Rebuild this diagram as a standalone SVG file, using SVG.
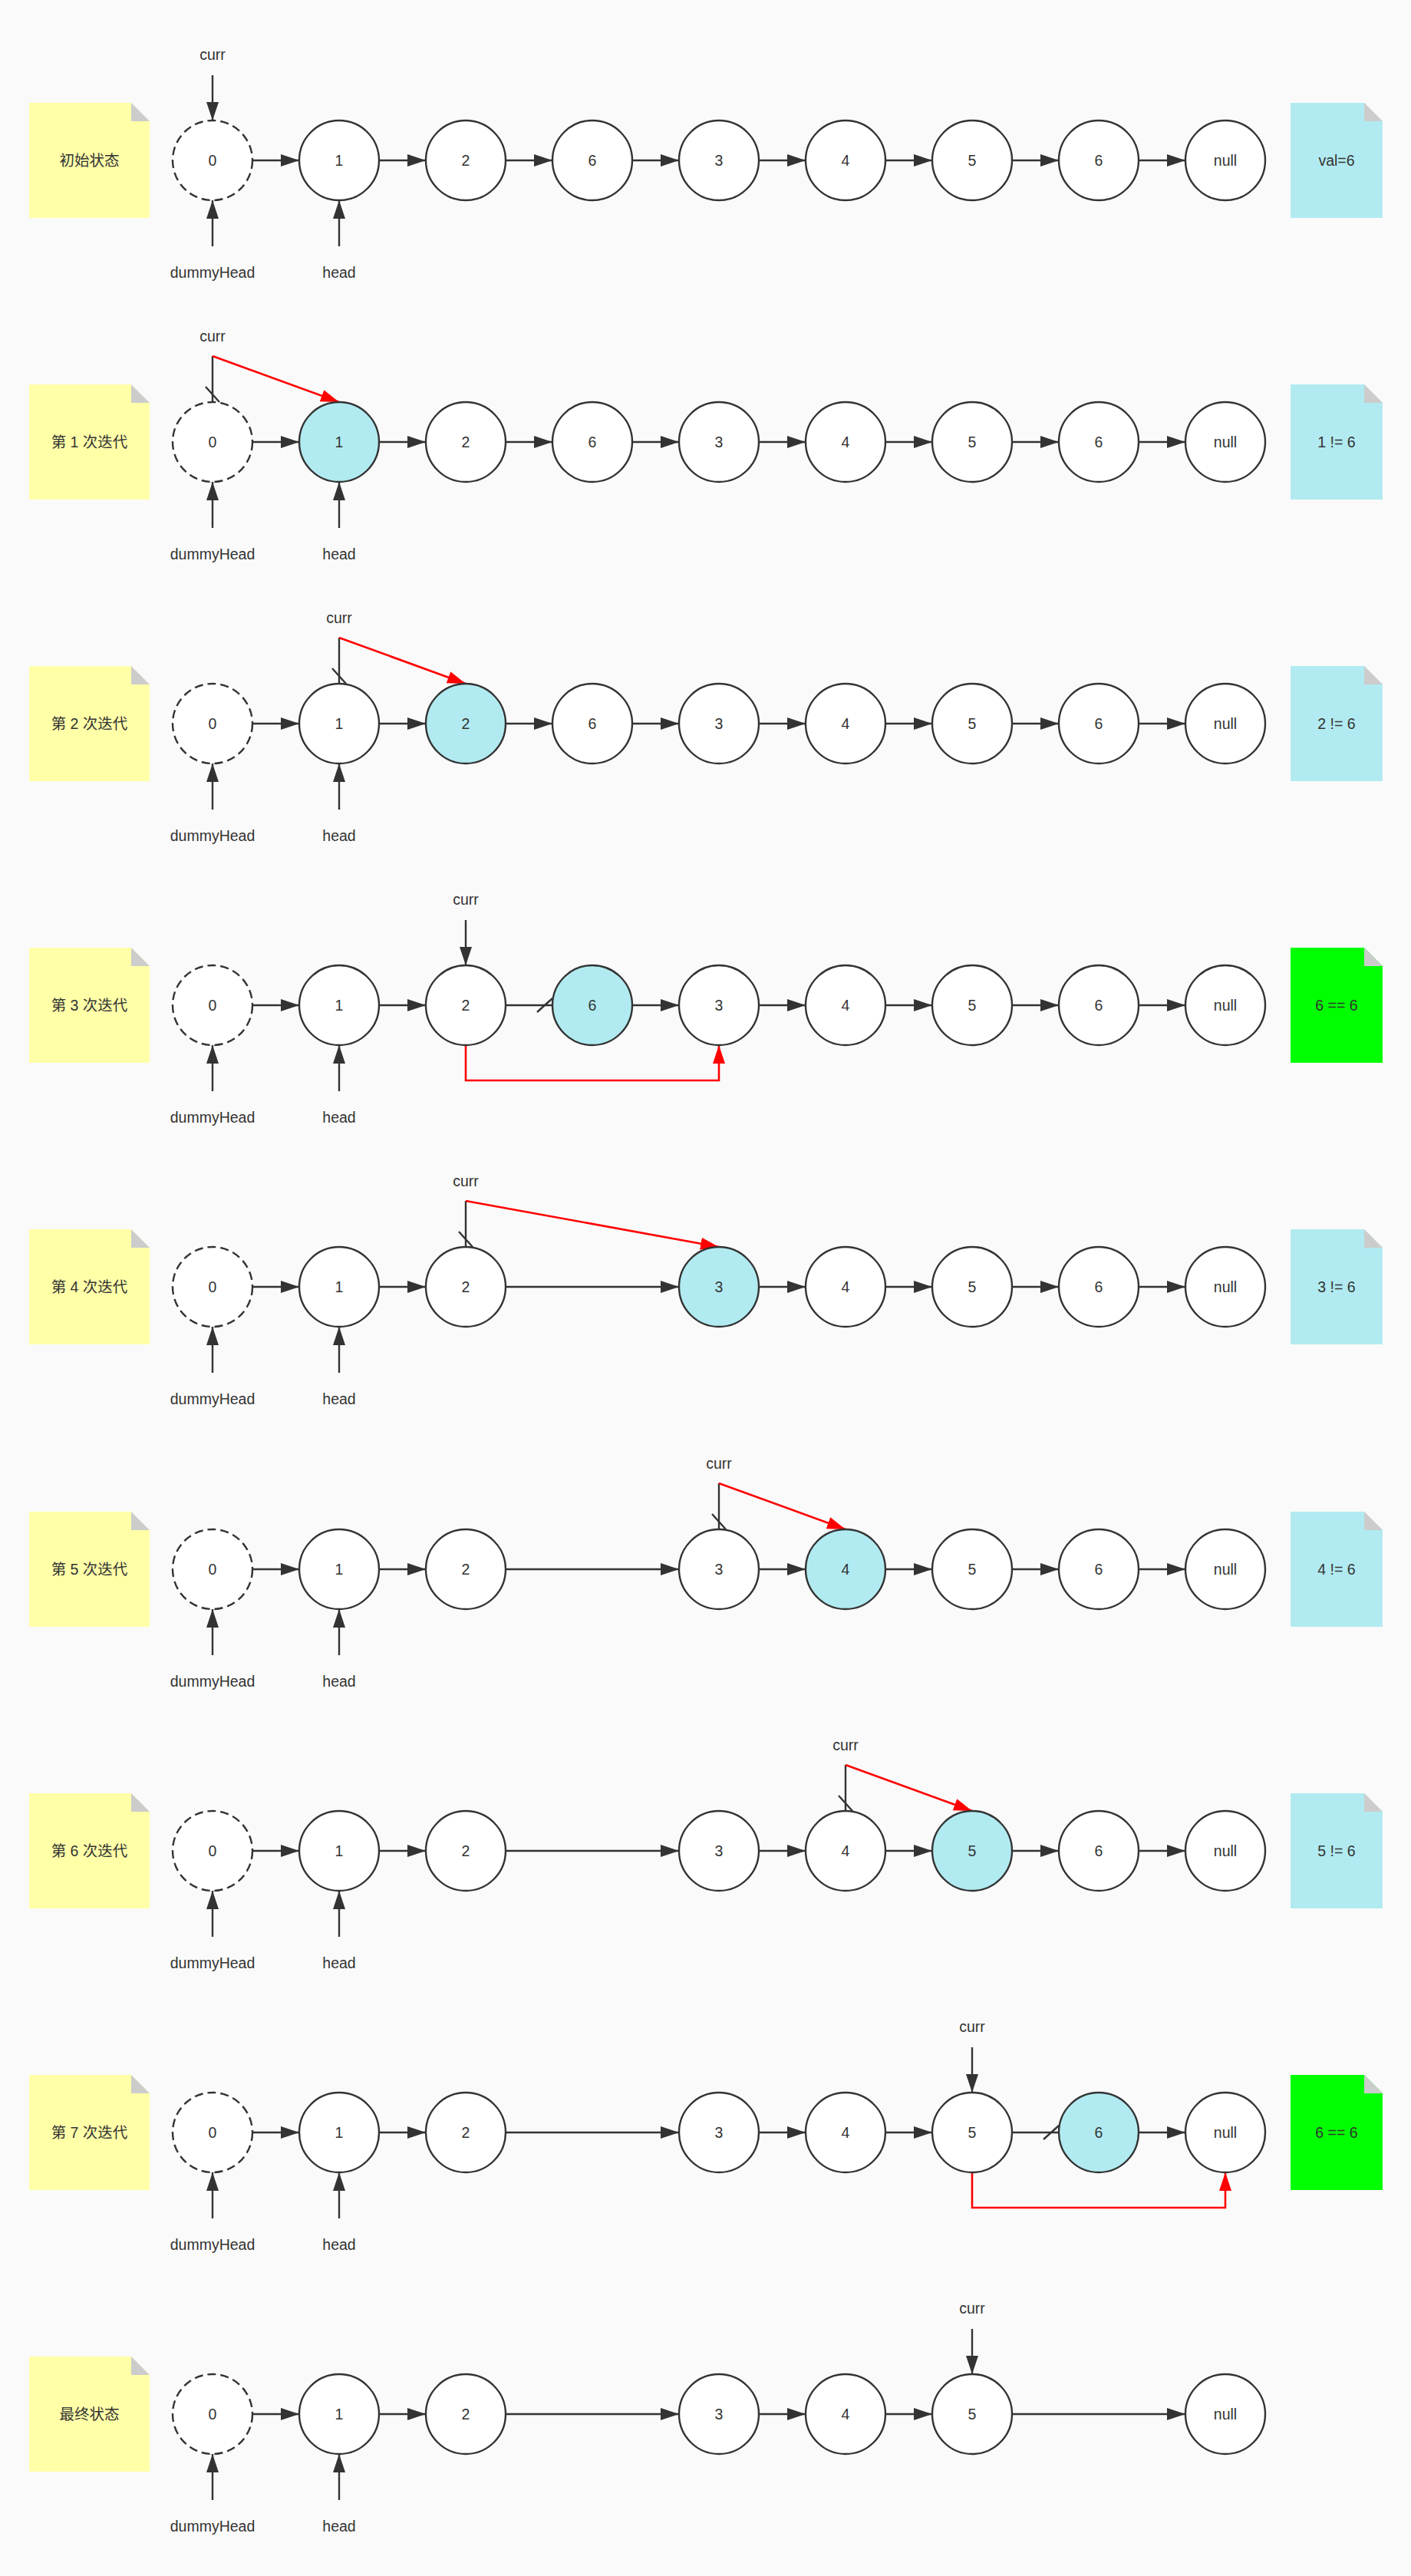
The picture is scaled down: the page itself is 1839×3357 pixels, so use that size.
<svg xmlns="http://www.w3.org/2000/svg" width="1839" height="3357" viewBox="0 0 1839 3357">
<style>
.n{fill:#fff;stroke:#333;stroke-width:2.4}
.nd{fill:#fff;stroke:#333;stroke-width:2.4;stroke-dasharray:11 6}
.nh{fill:#b1ebf1;stroke:#333;stroke-width:2.4}
.t{font-family:"Liberation Sans","Noto Sans CJK SC",sans-serif;font-size:19.5px;fill:#333;text-anchor:middle;dominant-baseline:central}
.e{fill:none;stroke:#333;stroke-width:2.4;marker-end:url(#ab)}
.c{fill:none;stroke:#333;stroke-width:2.4;marker-end:url(#dash)}
.r{fill:none;stroke:#f00;stroke-width:2.6;marker-end:url(#ar)}
.ny{fill:#ffffa8}
.nb{fill:#b1ebf1}
.ng{fill:#00ff00}
.fold{fill:#ccc}
</style>
<defs>
<marker id="ab" markerUnits="userSpaceOnUse" viewBox="0 0 24 16" refX="24" refY="8" markerWidth="24" markerHeight="16" orient="auto"><path d="M0,0 L24,8 L0,16 z" fill="#333"/></marker>
<marker id="ar" markerUnits="userSpaceOnUse" viewBox="0 0 24 16" refX="24" refY="8" markerWidth="24" markerHeight="16" orient="auto"><path d="M0,0 L24,8 L0,16 z" fill="#f00"/></marker>
<marker id="dash" markerUnits="userSpaceOnUse" viewBox="-24 -12 28 24" refX="0" refY="0" markerWidth="28" markerHeight="24" orient="auto" overflow="visible"><path d="M-20,9 L0,-9" fill="none" stroke="#333" stroke-width="2.4"/></marker>
</defs>
<rect width="1839" height="3357" fill="#fafafa"/>

<!-- Row 1 -->
<g id="row1">
<g id="r1-note"><polygon class="ny" points="38,134 171,134 195,158 195,284 38,284"/><polygon class="fold" points="171,134 171,158 195,158"/><text class="t" x="116.5" y="209">初始状态</text></g>
<g id="r1-edges">
<path class="e" d="M329,209 L390,209"/><path class="e" d="M494,209 L555,209"/><path class="e" d="M659,209 L720,209"/><path class="e" d="M824,209 L885,209"/><path class="e" d="M989,209 L1050,209"/><path class="e" d="M1154,209 L1215,209"/><path class="e" d="M1319,209 L1380,209"/><path class="e" d="M1484,209 L1545,209"/>
<path class="e" d="M277,98 L277,157"/><path class="e" d="M277,321 L277,261"/><path class="e" d="M442,321 L442,261"/>
</g>
<g id="r1-n0"><circle class="nd" cx="277" cy="209" r="52"/><text class="t" x="277" y="209">0</text></g>
<g id="r1-n1"><circle class="n" cx="442" cy="209" r="52"/><text class="t" x="442" y="209">1</text></g>
<g id="r1-n2"><circle class="n" cx="607" cy="209" r="52"/><text class="t" x="607" y="209">2</text></g>
<g id="r1-n3"><circle class="n" cx="772" cy="209" r="52"/><text class="t" x="772" y="209">6</text></g>
<g id="r1-n4"><circle class="n" cx="937" cy="209" r="52"/><text class="t" x="937" y="209">3</text></g>
<g id="r1-n5"><circle class="n" cx="1102" cy="209" r="52"/><text class="t" x="1102" y="209">4</text></g>
<g id="r1-n6"><circle class="n" cx="1267" cy="209" r="52"/><text class="t" x="1267" y="209">5</text></g>
<g id="r1-n7"><circle class="n" cx="1432" cy="209" r="52"/><text class="t" x="1432" y="209">6</text></g>
<g id="r1-n8"><circle class="n" cx="1597" cy="209" r="52"/><text class="t" x="1597" y="209">null</text></g>
<g id="r1-labels"><text class="t" x="277" y="71">curr</text><text class="t" x="277" y="355">dummyHead</text><text class="t" x="442" y="355">head</text></g>
<g id="r1-val"><polygon class="nb" points="1682,134 1778,134 1802,158 1802,284 1682,284"/><polygon class="fold" points="1778,134 1778,158 1802,158"/><text class="t" x="1742" y="209">val=6</text></g>
</g>

<!-- Row 2 -->
<g id="row2" transform="translate(0,367)">
<g id="r2-note"><polygon class="ny" points="38,134 171,134 195,158 195,284 38,284"/><polygon class="fold" points="171,134 171,158 195,158"/><text class="t" x="116.5" y="209">第 1 次迭代</text></g>
<g id="r2-edges">
<path class="e" d="M329,209 L390,209"/><path class="e" d="M494,209 L555,209"/><path class="e" d="M659,209 L720,209"/><path class="e" d="M824,209 L885,209"/><path class="e" d="M989,209 L1050,209"/><path class="e" d="M1154,209 L1215,209"/><path class="e" d="M1319,209 L1380,209"/><path class="e" d="M1484,209 L1545,209"/>
<path class="c" d="M277,97 L277,157"/><path class="r" d="M277,97 L442,157"/>
<path class="e" d="M277,321 L277,261"/><path class="e" d="M442,321 L442,261"/>
</g>
<g id="r2-n0"><circle class="nd" cx="277" cy="209" r="52"/><text class="t" x="277" y="209">0</text></g>
<g id="r2-n1"><circle class="nh" cx="442" cy="209" r="52"/><text class="t" x="442" y="209">1</text></g>
<g id="r2-n2"><circle class="n" cx="607" cy="209" r="52"/><text class="t" x="607" y="209">2</text></g>
<g id="r2-n3"><circle class="n" cx="772" cy="209" r="52"/><text class="t" x="772" y="209">6</text></g>
<g id="r2-n4"><circle class="n" cx="937" cy="209" r="52"/><text class="t" x="937" y="209">3</text></g>
<g id="r2-n5"><circle class="n" cx="1102" cy="209" r="52"/><text class="t" x="1102" y="209">4</text></g>
<g id="r2-n6"><circle class="n" cx="1267" cy="209" r="52"/><text class="t" x="1267" y="209">5</text></g>
<g id="r2-n7"><circle class="n" cx="1432" cy="209" r="52"/><text class="t" x="1432" y="209">6</text></g>
<g id="r2-n8"><circle class="n" cx="1597" cy="209" r="52"/><text class="t" x="1597" y="209">null</text></g>
<g id="r2-labels"><text class="t" x="277" y="71">curr</text><text class="t" x="277" y="355">dummyHead</text><text class="t" x="442" y="355">head</text></g>
<g id="r2-val"><polygon class="nb" points="1682,134 1778,134 1802,158 1802,284 1682,284"/><polygon class="fold" points="1778,134 1778,158 1802,158"/><text class="t" x="1742" y="209">1 != 6</text></g>
</g>

<!-- Row 3 -->
<g id="row3" transform="translate(0,734)">
<g id="r3-note"><polygon class="ny" points="38,134 171,134 195,158 195,284 38,284"/><polygon class="fold" points="171,134 171,158 195,158"/><text class="t" x="116.5" y="209">第 2 次迭代</text></g>
<g id="r3-edges">
<path class="e" d="M329,209 L390,209"/><path class="e" d="M494,209 L555,209"/><path class="e" d="M659,209 L720,209"/><path class="e" d="M824,209 L885,209"/><path class="e" d="M989,209 L1050,209"/><path class="e" d="M1154,209 L1215,209"/><path class="e" d="M1319,209 L1380,209"/><path class="e" d="M1484,209 L1545,209"/>
<path class="c" d="M442,97 L442,157"/><path class="r" d="M442,97 L607,157"/>
<path class="e" d="M277,321 L277,261"/><path class="e" d="M442,321 L442,261"/>
</g>
<g id="r3-n0"><circle class="nd" cx="277" cy="209" r="52"/><text class="t" x="277" y="209">0</text></g>
<g id="r3-n1"><circle class="n" cx="442" cy="209" r="52"/><text class="t" x="442" y="209">1</text></g>
<g id="r3-n2"><circle class="nh" cx="607" cy="209" r="52"/><text class="t" x="607" y="209">2</text></g>
<g id="r3-n3"><circle class="n" cx="772" cy="209" r="52"/><text class="t" x="772" y="209">6</text></g>
<g id="r3-n4"><circle class="n" cx="937" cy="209" r="52"/><text class="t" x="937" y="209">3</text></g>
<g id="r3-n5"><circle class="n" cx="1102" cy="209" r="52"/><text class="t" x="1102" y="209">4</text></g>
<g id="r3-n6"><circle class="n" cx="1267" cy="209" r="52"/><text class="t" x="1267" y="209">5</text></g>
<g id="r3-n7"><circle class="n" cx="1432" cy="209" r="52"/><text class="t" x="1432" y="209">6</text></g>
<g id="r3-n8"><circle class="n" cx="1597" cy="209" r="52"/><text class="t" x="1597" y="209">null</text></g>
<g id="r3-labels"><text class="t" x="442" y="71">curr</text><text class="t" x="277" y="355">dummyHead</text><text class="t" x="442" y="355">head</text></g>
<g id="r3-val"><polygon class="nb" points="1682,134 1778,134 1802,158 1802,284 1682,284"/><polygon class="fold" points="1778,134 1778,158 1802,158"/><text class="t" x="1742" y="209">2 != 6</text></g>
</g>

<!-- Row 4 -->
<g id="row4" transform="translate(0,1101)">
<g id="r4-note"><polygon class="ny" points="38,134 171,134 195,158 195,284 38,284"/><polygon class="fold" points="171,134 171,158 195,158"/><text class="t" x="116.5" y="209">第 3 次迭代</text></g>
<g id="r4-edges">
<path class="e" d="M329,209 L390,209"/><path class="e" d="M494,209 L555,209"/><path class="c" d="M659,209 L720,209"/><path class="e" d="M824,209 L885,209"/><path class="e" d="M989,209 L1050,209"/><path class="e" d="M1154,209 L1215,209"/><path class="e" d="M1319,209 L1380,209"/><path class="e" d="M1484,209 L1545,209"/>
<path class="e" d="M607,98 L607,157"/>
<path class="r" d="M607,261 L607,307 L937,307 L937,261"/>
<path class="e" d="M277,321 L277,261"/><path class="e" d="M442,321 L442,261"/>
</g>
<g id="r4-n0"><circle class="nd" cx="277" cy="209" r="52"/><text class="t" x="277" y="209">0</text></g>
<g id="r4-n1"><circle class="n" cx="442" cy="209" r="52"/><text class="t" x="442" y="209">1</text></g>
<g id="r4-n2"><circle class="n" cx="607" cy="209" r="52"/><text class="t" x="607" y="209">2</text></g>
<g id="r4-n3"><circle class="nh" cx="772" cy="209" r="52"/><text class="t" x="772" y="209">6</text></g>
<g id="r4-n4"><circle class="n" cx="937" cy="209" r="52"/><text class="t" x="937" y="209">3</text></g>
<g id="r4-n5"><circle class="n" cx="1102" cy="209" r="52"/><text class="t" x="1102" y="209">4</text></g>
<g id="r4-n6"><circle class="n" cx="1267" cy="209" r="52"/><text class="t" x="1267" y="209">5</text></g>
<g id="r4-n7"><circle class="n" cx="1432" cy="209" r="52"/><text class="t" x="1432" y="209">6</text></g>
<g id="r4-n8"><circle class="n" cx="1597" cy="209" r="52"/><text class="t" x="1597" y="209">null</text></g>
<g id="r4-labels"><text class="t" x="607" y="71">curr</text><text class="t" x="277" y="355">dummyHead</text><text class="t" x="442" y="355">head</text></g>
<g id="r4-val"><polygon class="ng" points="1682,134 1778,134 1802,158 1802,284 1682,284"/><polygon class="fold" points="1778,134 1778,158 1802,158"/><text class="t" x="1742" y="209">6 == 6</text></g>
</g>

<!-- Row 5 -->
<g id="row5" transform="translate(0,1468)">
<g id="r5-note"><polygon class="ny" points="38,134 171,134 195,158 195,284 38,284"/><polygon class="fold" points="171,134 171,158 195,158"/><text class="t" x="116.5" y="209">第 4 次迭代</text></g>
<g id="r5-edges">
<path class="e" d="M329,209 L390,209"/><path class="e" d="M494,209 L555,209"/><path class="e" d="M659,209 L885,209"/><path class="e" d="M989,209 L1050,209"/><path class="e" d="M1154,209 L1215,209"/><path class="e" d="M1319,209 L1380,209"/><path class="e" d="M1484,209 L1545,209"/>
<path class="c" d="M607,97 L607,157"/><path class="r" d="M607,97 L937,157"/>
<path class="e" d="M277,321 L277,261"/><path class="e" d="M442,321 L442,261"/>
</g>
<g id="r5-n0"><circle class="nd" cx="277" cy="209" r="52"/><text class="t" x="277" y="209">0</text></g>
<g id="r5-n1"><circle class="n" cx="442" cy="209" r="52"/><text class="t" x="442" y="209">1</text></g>
<g id="r5-n2"><circle class="n" cx="607" cy="209" r="52"/><text class="t" x="607" y="209">2</text></g>
<g id="r5-n4"><circle class="nh" cx="937" cy="209" r="52"/><text class="t" x="937" y="209">3</text></g>
<g id="r5-n5"><circle class="n" cx="1102" cy="209" r="52"/><text class="t" x="1102" y="209">4</text></g>
<g id="r5-n6"><circle class="n" cx="1267" cy="209" r="52"/><text class="t" x="1267" y="209">5</text></g>
<g id="r5-n7"><circle class="n" cx="1432" cy="209" r="52"/><text class="t" x="1432" y="209">6</text></g>
<g id="r5-n8"><circle class="n" cx="1597" cy="209" r="52"/><text class="t" x="1597" y="209">null</text></g>
<g id="r5-labels"><text class="t" x="607" y="71">curr</text><text class="t" x="277" y="355">dummyHead</text><text class="t" x="442" y="355">head</text></g>
<g id="r5-val"><polygon class="nb" points="1682,134 1778,134 1802,158 1802,284 1682,284"/><polygon class="fold" points="1778,134 1778,158 1802,158"/><text class="t" x="1742" y="209">3 != 6</text></g>
</g>

<!-- Row 6 -->
<g id="row6" transform="translate(0,1836)">
<g id="r6-note"><polygon class="ny" points="38,134 171,134 195,158 195,284 38,284"/><polygon class="fold" points="171,134 171,158 195,158"/><text class="t" x="116.5" y="209">第 5 次迭代</text></g>
<g id="r6-edges">
<path class="e" d="M329,209 L390,209"/><path class="e" d="M494,209 L555,209"/><path class="e" d="M659,209 L885,209"/><path class="e" d="M989,209 L1050,209"/><path class="e" d="M1154,209 L1215,209"/><path class="e" d="M1319,209 L1380,209"/><path class="e" d="M1484,209 L1545,209"/>
<path class="c" d="M937,97 L937,157"/><path class="r" d="M937,97 L1102,157"/>
<path class="e" d="M277,321 L277,261"/><path class="e" d="M442,321 L442,261"/>
</g>
<g id="r6-n0"><circle class="nd" cx="277" cy="209" r="52"/><text class="t" x="277" y="209">0</text></g>
<g id="r6-n1"><circle class="n" cx="442" cy="209" r="52"/><text class="t" x="442" y="209">1</text></g>
<g id="r6-n2"><circle class="n" cx="607" cy="209" r="52"/><text class="t" x="607" y="209">2</text></g>
<g id="r6-n4"><circle class="n" cx="937" cy="209" r="52"/><text class="t" x="937" y="209">3</text></g>
<g id="r6-n5"><circle class="nh" cx="1102" cy="209" r="52"/><text class="t" x="1102" y="209">4</text></g>
<g id="r6-n6"><circle class="n" cx="1267" cy="209" r="52"/><text class="t" x="1267" y="209">5</text></g>
<g id="r6-n7"><circle class="n" cx="1432" cy="209" r="52"/><text class="t" x="1432" y="209">6</text></g>
<g id="r6-n8"><circle class="n" cx="1597" cy="209" r="52"/><text class="t" x="1597" y="209">null</text></g>
<g id="r6-labels"><text class="t" x="937" y="71">curr</text><text class="t" x="277" y="355">dummyHead</text><text class="t" x="442" y="355">head</text></g>
<g id="r6-val"><polygon class="nb" points="1682,134 1778,134 1802,158 1802,284 1682,284"/><polygon class="fold" points="1778,134 1778,158 1802,158"/><text class="t" x="1742" y="209">4 != 6</text></g>
</g>

<!-- Row 7 -->
<g id="row7" transform="translate(0,2203)">
<g id="r7-note"><polygon class="ny" points="38,134 171,134 195,158 195,284 38,284"/><polygon class="fold" points="171,134 171,158 195,158"/><text class="t" x="116.5" y="209">第 6 次迭代</text></g>
<g id="r7-edges">
<path class="e" d="M329,209 L390,209"/><path class="e" d="M494,209 L555,209"/><path class="e" d="M659,209 L885,209"/><path class="e" d="M989,209 L1050,209"/><path class="e" d="M1154,209 L1215,209"/><path class="e" d="M1319,209 L1380,209"/><path class="e" d="M1484,209 L1545,209"/>
<path class="c" d="M1102,97 L1102,157"/><path class="r" d="M1102,97 L1267,157"/>
<path class="e" d="M277,321 L277,261"/><path class="e" d="M442,321 L442,261"/>
</g>
<g id="r7-n0"><circle class="nd" cx="277" cy="209" r="52"/><text class="t" x="277" y="209">0</text></g>
<g id="r7-n1"><circle class="n" cx="442" cy="209" r="52"/><text class="t" x="442" y="209">1</text></g>
<g id="r7-n2"><circle class="n" cx="607" cy="209" r="52"/><text class="t" x="607" y="209">2</text></g>
<g id="r7-n4"><circle class="n" cx="937" cy="209" r="52"/><text class="t" x="937" y="209">3</text></g>
<g id="r7-n5"><circle class="n" cx="1102" cy="209" r="52"/><text class="t" x="1102" y="209">4</text></g>
<g id="r7-n6"><circle class="nh" cx="1267" cy="209" r="52"/><text class="t" x="1267" y="209">5</text></g>
<g id="r7-n7"><circle class="n" cx="1432" cy="209" r="52"/><text class="t" x="1432" y="209">6</text></g>
<g id="r7-n8"><circle class="n" cx="1597" cy="209" r="52"/><text class="t" x="1597" y="209">null</text></g>
<g id="r7-labels"><text class="t" x="1102" y="71">curr</text><text class="t" x="277" y="355">dummyHead</text><text class="t" x="442" y="355">head</text></g>
<g id="r7-val"><polygon class="nb" points="1682,134 1778,134 1802,158 1802,284 1682,284"/><polygon class="fold" points="1778,134 1778,158 1802,158"/><text class="t" x="1742" y="209">5 != 6</text></g>
</g>

<!-- Row 8 -->
<g id="row8" transform="translate(0,2570)">
<g id="r8-note"><polygon class="ny" points="38,134 171,134 195,158 195,284 38,284"/><polygon class="fold" points="171,134 171,158 195,158"/><text class="t" x="116.5" y="209">第 7 次迭代</text></g>
<g id="r8-edges">
<path class="e" d="M329,209 L390,209"/><path class="e" d="M494,209 L555,209"/><path class="e" d="M659,209 L885,209"/><path class="e" d="M989,209 L1050,209"/><path class="e" d="M1154,209 L1215,209"/><path class="c" d="M1319,209 L1380,209"/><path class="e" d="M1484,209 L1545,209"/>
<path class="e" d="M1267,98 L1267,157"/>
<path class="r" d="M1267,261 L1267,307 L1597,307 L1597,261"/>
<path class="e" d="M277,321 L277,261"/><path class="e" d="M442,321 L442,261"/>
</g>
<g id="r8-n0"><circle class="nd" cx="277" cy="209" r="52"/><text class="t" x="277" y="209">0</text></g>
<g id="r8-n1"><circle class="n" cx="442" cy="209" r="52"/><text class="t" x="442" y="209">1</text></g>
<g id="r8-n2"><circle class="n" cx="607" cy="209" r="52"/><text class="t" x="607" y="209">2</text></g>
<g id="r8-n4"><circle class="n" cx="937" cy="209" r="52"/><text class="t" x="937" y="209">3</text></g>
<g id="r8-n5"><circle class="n" cx="1102" cy="209" r="52"/><text class="t" x="1102" y="209">4</text></g>
<g id="r8-n6"><circle class="n" cx="1267" cy="209" r="52"/><text class="t" x="1267" y="209">5</text></g>
<g id="r8-n7"><circle class="nh" cx="1432" cy="209" r="52"/><text class="t" x="1432" y="209">6</text></g>
<g id="r8-n8"><circle class="n" cx="1597" cy="209" r="52"/><text class="t" x="1597" y="209">null</text></g>
<g id="r8-labels"><text class="t" x="1267" y="71">curr</text><text class="t" x="277" y="355">dummyHead</text><text class="t" x="442" y="355">head</text></g>
<g id="r8-val"><polygon class="ng" points="1682,134 1778,134 1802,158 1802,284 1682,284"/><polygon class="fold" points="1778,134 1778,158 1802,158"/><text class="t" x="1742" y="209">6 == 6</text></g>
</g>

<!-- Row 9 -->
<g id="row9" transform="translate(0,2937)">
<g id="r9-note"><polygon class="ny" points="38,134 171,134 195,158 195,284 38,284"/><polygon class="fold" points="171,134 171,158 195,158"/><text class="t" x="116.5" y="209">最终状态</text></g>
<g id="r9-edges">
<path class="e" d="M329,209 L390,209"/><path class="e" d="M494,209 L555,209"/><path class="e" d="M659,209 L885,209"/><path class="e" d="M989,209 L1050,209"/><path class="e" d="M1154,209 L1215,209"/><path class="e" d="M1319,209 L1545,209"/>
<path class="e" d="M1267,98 L1267,157"/>
<path class="e" d="M277,321 L277,261"/><path class="e" d="M442,321 L442,261"/>
</g>
<g id="r9-n0"><circle class="nd" cx="277" cy="209" r="52"/><text class="t" x="277" y="209">0</text></g>
<g id="r9-n1"><circle class="n" cx="442" cy="209" r="52"/><text class="t" x="442" y="209">1</text></g>
<g id="r9-n2"><circle class="n" cx="607" cy="209" r="52"/><text class="t" x="607" y="209">2</text></g>
<g id="r9-n4"><circle class="n" cx="937" cy="209" r="52"/><text class="t" x="937" y="209">3</text></g>
<g id="r9-n5"><circle class="n" cx="1102" cy="209" r="52"/><text class="t" x="1102" y="209">4</text></g>
<g id="r9-n6"><circle class="n" cx="1267" cy="209" r="52"/><text class="t" x="1267" y="209">5</text></g>
<g id="r9-n8"><circle class="n" cx="1597" cy="209" r="52"/><text class="t" x="1597" y="209">null</text></g>
<g id="r9-labels"><text class="t" x="1267" y="71">curr</text><text class="t" x="277" y="355">dummyHead</text><text class="t" x="442" y="355">head</text></g>
</g>
</svg>
